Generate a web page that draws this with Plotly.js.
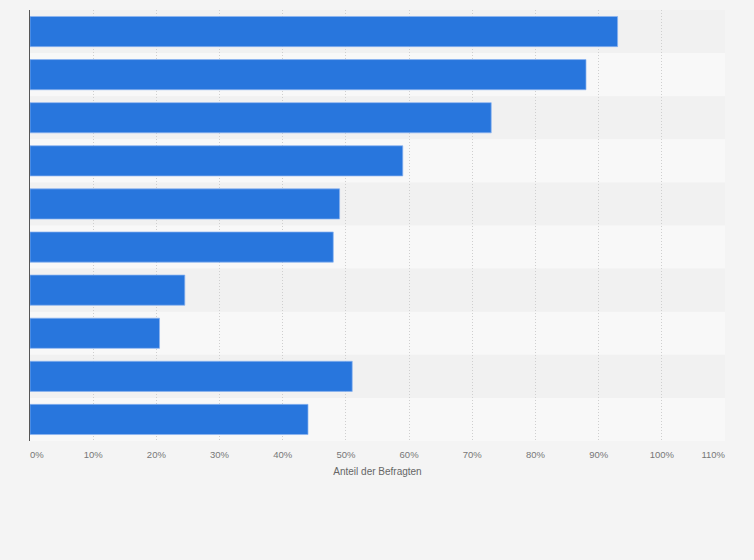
<!DOCTYPE html>
<html>
<head>
<meta charset="utf-8">
<script src="https://cdn.plot.ly/plotly-3.0.1.min.js"></script>
<style>
  html, body { margin: 0; padding: 0; background: #f4f4f4; }
  #chart { width: 754px; height: 560px; }
</style>
</head>
<body>
<div id="chart"></div>
<script>
// category names are not shown in the picture, so placeholders are used (labels hidden)
const categories = ['Kategorie 1', 'Kategorie 2', 'Kategorie 3', 'Kategorie 4', 'Kategorie 5',
                    'Kategorie 6', 'Kategorie 7', 'Kategorie 8', 'Kategorie 9', 'Kategorie 10'];
const shares = [93, 88, 73, 59, 49, 48, 24.5, 20.5, 51, 44];

const midTicks = [10, 20, 30, 40, 50, 60, 70, 80, 90, 100];
const firstTick = [0];
const lastTick = [110];
const pct = v => v + '%';

const BLUE = '#2876dd';
const GRID = '#cfcfcf';
const tickFont = { family: 'Liberation Sans, Arial, sans-serif', size: 9.5, color: '#777' };

// alternating row bands, one per category
const bands = categories.map((cat, i) => ({
    type: 'rect', xref: 'paper', yref: 'y', layer: 'below',
    x0: 0, x1: 1, y0: i - 0.5, y1: i + 0.5,
    fillcolor: i % 2 ? '#f8f8f8' : '#f1f1f1', line: { width: 0 },
}));

const traces = [
    {
        type: 'bar', orientation: 'h', x: shares, y: categories, width: 0.7,
        marker: { color: BLUE, line: { color: 'rgba(140,180,240,0.9)', width: 0.8 } },
        hoverinfo: 'x', showlegend: false,
    },
    // invisible carriers so the end-tick axes are drawn
    { type: 'scatter', mode: 'markers', x: [0], y: [categories[0]], xaxis: 'x2', marker: { opacity: 0 }, hoverinfo: 'skip', showlegend: false },
    { type: 'scatter', mode: 'markers', x: [0], y: [categories[0]], xaxis: 'x3', marker: { opacity: 0 }, hoverinfo: 'skip', showlegend: false },
];

const baseX = {
    range: [0, 110], fixedrange: true, zeroline: false, showline: false,
    ticks: '', tickfont: tickFont, ticklabelstandoff: 6,
};

const layout = {
    width: 754, height: 560,
    margin: { l: 30, r: 29, t: 10, b: 119 },
    paper_bgcolor: '#f4f4f4', plot_bgcolor: '#f4f4f4',
    bargap: 0.3, shapes: bands,
    xaxis: Object.assign({}, baseX, {
        tickvals: midTicks, ticktext: midTicks.map(pct),
        showgrid: true, gridcolor: GRID, griddash: '1px,2px', gridwidth: 1,
        title: { text: 'Anteil der Befragten', font: { family: 'Liberation Sans, Arial, sans-serif', size: 10, color: '#666' }, standoff: 9 },
    }),
    xaxis2: Object.assign({}, baseX, {
        overlaying: 'x', matches: 'x', tickvals: firstTick, ticktext: firstTick.map(pct),
        ticklabelposition: 'outside right', showgrid: false,
    }),
    xaxis3: Object.assign({}, baseX, {
        overlaying: 'x', matches: 'x', tickvals: lastTick, ticktext: lastTick.map(pct),
        ticklabelposition: 'outside left', showgrid: true, gridcolor: GRID, griddash: '1px,2px', gridwidth: 1,
    }),
    yaxis: {
        type: 'category', range: [categories.length - 0.5, -0.5], autorange: false,
        showticklabels: false, ticks: '',
        showgrid: false, zeroline: false, fixedrange: true,
        showline: true, linecolor: '#555', linewidth: 1.5,
    },
    font: { family: 'Liberation Sans, Arial, sans-serif' },
};

Plotly.newPlot('chart', traces, layout, { displayModeBar: false, staticPlot: true });
</script>
</body>
</html>
